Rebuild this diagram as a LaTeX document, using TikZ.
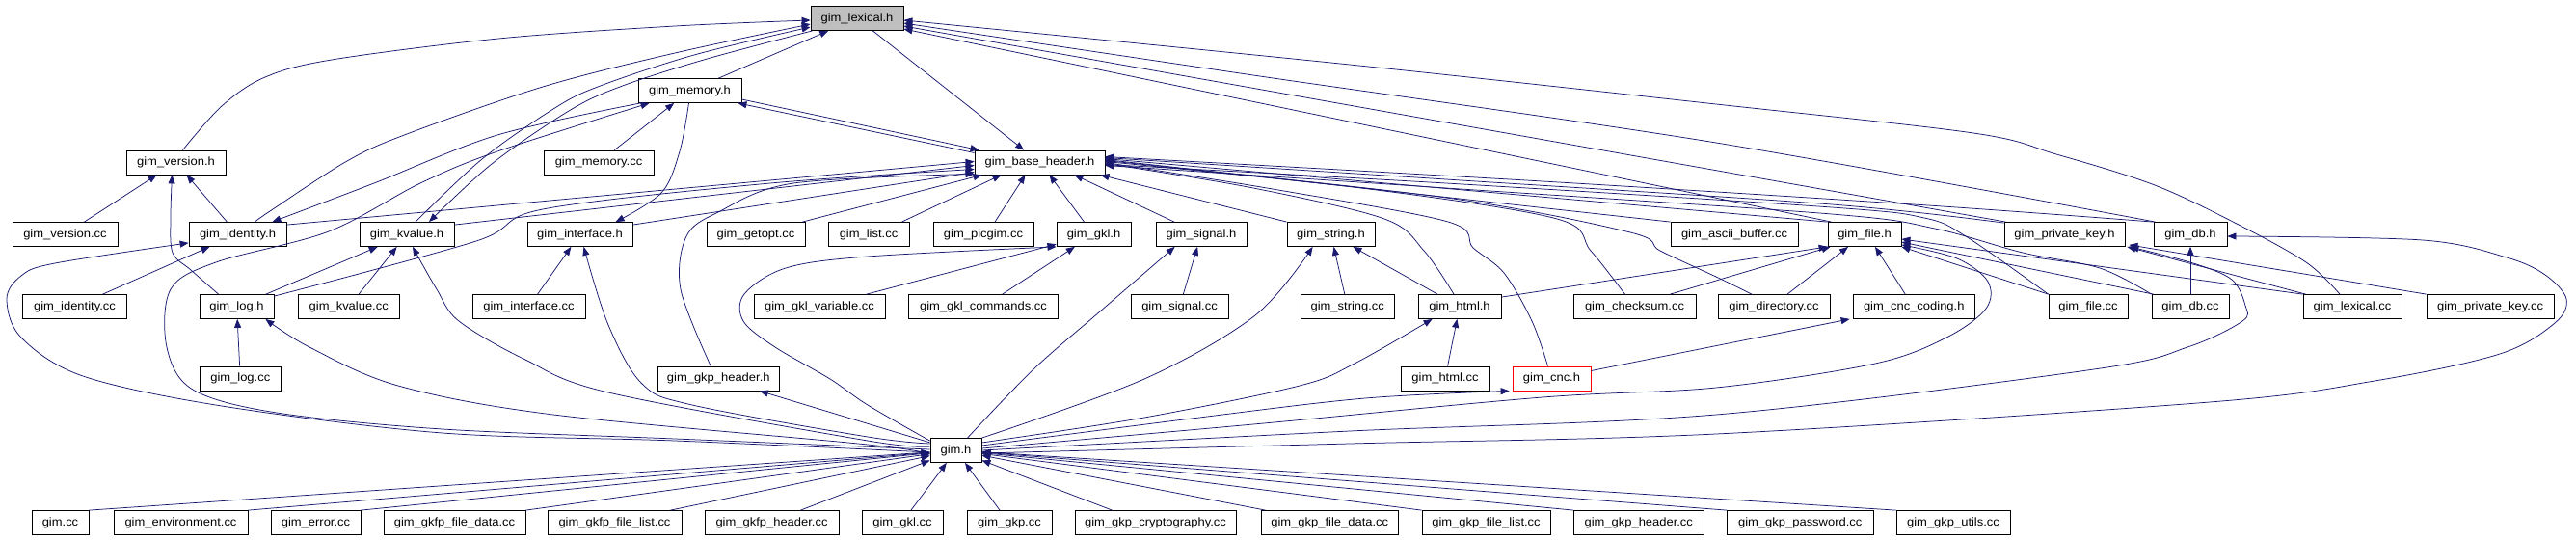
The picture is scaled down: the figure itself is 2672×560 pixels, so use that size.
\documentclass[tikz,border=0pt]{standalone}
\usepackage{fontspec}
\setmainfont{Liberation Sans}[FakeStretch=1.08]
\usetikzlibrary{arrows.meta,calc}
\definecolor{edgecol}{HTML}{191970}
\definecolor{lexgray}{HTML}{BFBFBF}
\tikzset{
 box/.style={draw=black,line width=0.8pt,fill=white,minimum height=25pt,inner sep=0pt,font=\fontsize{12}{14}\selectfont,text=black},
 e/.style={draw=edgecol,line width=0.75pt,-{Triangle[length=9pt,width=7pt]}},
 sm/.style={smooth,tension=0.55}
}
\newcommand\mkbox[5][]{\node[box,minimum width=#4pt,#1] (#2) at (#3) {#5};}
\begin{document}
\begin{tikzpicture}[x=1pt,y=-1pt]
\fill[white] (0,0) rectangle (2672,560);
\useasboundingbox (0,0) rectangle (2672,560);
% row 0-2
\mkbox[fill=lexgray]{lex}{889,19}{96}{gim\_lexical.h}
\mkbox{mem}{715.5,94}{107}{gim\_memory.h}
\mkbox{ver}{182.5,168.5}{103}{gim\_version.h}
\mkbox{memcc}{621,168.5}{114}{gim\_memory.cc}
\mkbox{base}{1078.5,168.5}{135}{gim\_base\_header.h}
% row 3
\mkbox{vercc}{67.5,243}{109}{gim\_version.cc}
\mkbox{idh}{246.5,243}{101}{gim\_identity.h}
\mkbox{kvh}{422,243}{98}{gim\_kvalue.h}
\mkbox{ifh}{601.5,243}{109}{gim\_interface.h}
\mkbox{getopt}{784,243}{102}{gim\_getopt.cc}
\mkbox{list}{901,243}{84}{gim\_list.cc}
\mkbox{picgim}{1020,243}{104}{gim\_picgim.cc}
\mkbox{gklh}{1134.5,243}{77}{gim\_gkl.h}
\mkbox{sigh}{1246,243}{94}{gim\_signal.h}
\mkbox{strh}{1380.5,243}{91}{gim\_string.h}
\mkbox{ascii}{1799,243}{132}{gim\_ascii\_buffer.cc}
\mkbox{fileh}{1934,243}{76}{gim\_file.h}
\mkbox{pkh}{2141.5,243}{125}{gim\_private\_key.h}
\mkbox{dbh}{2272,243}{76}{gim\_db.h}
% row 4
\mkbox{idcc}{77.5,318}{108}{gim\_identity.cc}
\mkbox{logh}{245.5,318}{77}{gim\_log.h}
\mkbox{kvcc}{361.75,318}{105.5}{gim\_kvalue.cc}
\mkbox{ifcc}{548.5,318}{117}{gim\_interface.cc}
\mkbox{gklvar}{850,318}{136}{gim\_gkl\_variable.cc}
\mkbox{gklcmd}{1020,318}{155}{gim\_gkl\_commands.cc}
\mkbox{sigcc}{1223.5,318}{101}{gim\_signal.cc}
\mkbox{strcc}{1397.75,318}{97.5}{gim\_string.cc}
\mkbox{htmlh}{1514,318}{86}{gim\_html.h}
\mkbox{chk}{1695.5,318}{127}{gim\_checksum.cc}
\mkbox{dircc}{1840,318}{116}{gim\_directory.cc}
\mkbox{cnccod}{1985.25,318}{126.5}{gim\_cnc\_coding.h}
\mkbox{filecc}{2166,318}{82}{gim\_file.cc}
\mkbox{dbcc}{2272,318}{80}{gim\_db.cc}
\mkbox{lexcc}{2440,318}{102}{gim\_lexical.cc}
\mkbox{pkcc}{2583,318}{132}{gim\_private\_key.cc}
% row 5-6
\mkbox{logcc}{249.3,392.5}{84.6}{gim\_log.cc}
\mkbox{gkph}{745.25,392.5}{125.5}{gim\_gkp\_header.h}
\mkbox{htmlcc}{1499,392.5}{92}{gim\_html.cc}
\mkbox[draw=red]{cnch}{1609.5,392.5}{81}{gim\_cnc.h}
\mkbox{gimh}{991.5,467}{53}{gim.h}
% row 7
\mkbox{gimcc}{62.5,542}{59}{gim.cc}
\mkbox{envcc}{187.5,542}{139}{gim\_environment.cc}
\mkbox{errcc}{327.5,542}{93}{gim\_error.cc}
\mkbox{gkfpfd}{471.5,542}{147}{gim\_gkfp\_file\_data.cc}
\mkbox{gkfpfl}{637.5,542}{139}{gim\_gkfp\_file\_list.cc}
\mkbox{gkfphd}{800.5,542}{139}{gim\_gkfp\_header.cc}
\mkbox{gklcc}{936,542}{84}{gim\_gkl.cc}
\mkbox{gkpcc}{1047,542}{88}{gim\_gkp.cc}
\mkbox{gkpcr}{1198.5,542}{167}{gim\_gkp\_cryptography.cc}
\mkbox{gkpfd}{1379.25,542}{142.5}{gim\_gkp\_file\_data.cc}
\mkbox{gkpfl}{1541.5,542}{133}{gim\_gkp\_file\_list.cc}
\mkbox{gkphd}{1699.75,542}{134.5}{gim\_gkp\_header.cc}
\mkbox{gkppw}{1867.25,542}{151.5}{gim\_gkp\_password.cc}
\mkbox{gkput}{2026,542}{118}{gim\_gkp\_utils.cc}
% ---- edges to gim_lexical.h
\draw[e] (mem) -- (lex);
\draw[e] plot[sm] coordinates {($(ver.north)+(7,0)$) (230,110) (275,80) (344,62) (517,40) (700,27) ($(lex.west)+(0,2)$)};
\draw[e] plot[sm] coordinates {($(idh.north)+(18,0)$) (280,219) (360,167) (422,139) (563,90) (700,55) ($(lex.west)+(0,6)$)};
\draw[e] plot[sm] coordinates {($(kvh.north)+(9,0)$) (500,165) (574,113) (620,90) (720,57) ($(lex.west)+(0,9)$)};
\draw[e] plot[sm] coordinates {($(lex.south west)+(2,0)$) (730,62) (643,90) (590,115) (510,170) ($(kvh.north)+(23,0)$)};
\draw[e] (lex) -- (base);
\draw[e] plot[sm] coordinates {($(lexcc.north)+(-13,0)$) (2392,272) (2320,232) (2235,192) (2133,160) (2047,138) (1780,108) (1400,67) ($(lex.east)+(0,2)$)};
\draw[e] plot[sm] coordinates {($(dbh.north west)+(2,0)$) (1780,148) (1300,78) ($(lex.east)+(0,5)$)};
\draw[e] ($(pkh.north west)+(2,0)$) -- ($(lex.east)+(0,8)$);
\draw[e] ($(fileh.north west)+(4,0)$) -- ($(lex.east)+(0,11)$);
% ---- version
\draw[e] (vercc) -- (ver);
\draw[e] (idh) -- (ver);
\draw[e] plot[sm] coordinates {($(logh.north west)+(20,0)$) (198,280) (179,262) (177,225) ($(ver.south)+(-4,0)$)};
% ---- memory
\draw[e] (memcc) -- (mem);
\draw[e] ($(mem.east)+(0,9)$) -- ($(base.north west)+(5,0)$);
\draw[e] ($(base.west)+(0,-10)$) -- ($(mem.south east)+(-4,0)$);
\draw[e] plot[sm] coordinates {($(gimh.west)+(0,-1)$) (700,455) (459,445) (287,428) (200,404) (173,360) (177,300) (224,272) (341,240) (436,190) (516,157) ($(mem.south west)+(12,0)$)};
\draw[e] plot[sm] coordinates {($(mem.south west)+(3,0)$) (516,140) (388,190) ($(idh.north east)+(-15,0)$)};
\draw[e] plot[sm] coordinates {($(mem.south)+(-1,0)$) (705,157) (686,200) ($(ifh.north)+(37,0)$)};
% ---- identity
\draw[e] (idcc) -- (idh);
\draw[e] plot[sm] coordinates {($(gimh.west)+(0,2)$) (700,457) (459,449) (230,421) (86,390) (22,350) (7,310) (22,286) (57,273) ($(idh.south west)+(0,-4)$)};
\draw[e] ($(idh.north east)+(0,3)$) -- ($(base.west)+(0,-1)$);
% ---- kvalue
\draw[e] (logh) -- (kvh);
\draw[e] (kvcc) -- (kvh);
\draw[e] plot[sm] coordinates {($(gimh.west)+(0,-4)$) (900,457) (631,407) (545,373) (476,333) (453,300) ($(kvh.south)+(6,0)$)};
\draw[e] ($(kvh.north east)+(0,3)$) -- ($(base.west)+(0,3)$);
% ---- interface
\draw[e] (ifcc) -- (ifh);
\draw[e] plot[sm] coordinates {($(gimh.west)+(0,-7)$) (900,453) (718,420) (666,398) (631,337) ($(ifh.south)+(4,0)$)};
\draw[e] ($(ifh.north east)+(0,3)$) -- ($(base.west)+(0,10)$);
% ---- log
\draw[e] (logcc) -- (logh);
\draw[e] plot[sm] coordinates {($(gimh.west)+(0,4)$) (900,461) (574,430) (413,400) (321,360) ($(logh.south east)+(-9,0)$)};
\draw[e] plot[sm] coordinates {($(logh.north east)+(0,2)$) (494,250) (563,217) (799,190) ($(base.west)+(0,7)$)};
% ---- base header, from below and right
\draw[e] plot[sm] coordinates {($(gkph.north)+(-8,0)$) (706,300) (712,245) (745,220) (823,190) ($(base.south west)+(0,-1)$)};
\draw[e] ($(getopt.north east)+(-3,0)$) -- ($(base.south west)+(8,0)$);
\draw[e] ($(list.north east)+(-8,0)$) -- ($(base.south)+(-40,0)$);
\draw[e] ($(picgim.north)+(12,0)$) -- ($(base.south)+(-15,0)$);
\draw[e] ($(gklh.north)+(-10,0)$) -- ($(base.south)+(10,0)$);
\draw[e] ($(sigh.north)+(-28,0)$) -- ($(base.south)+(36,0)$);
\draw[e] (strh.north west) -- ($(base.south east)+(-5,0)$);
\draw[e] plot[sm] coordinates {($(htmlh.north)+(-6,0)$) (1477,260) (1436,227) (1300,195) ($(base.east)+(0,1)$)};
\draw[e] plot[sm] coordinates {($(cnch.north)+(-4,0)$) (1589,333) (1560,283) (1528,257) (1502,230) (1320,196) ($(base.east)+(0,0)$)};
\draw[e] plot[sm] coordinates {($(chk.north)+(-10,0)$) (1650,260) (1615,227) (1420,196) ($(base.east)+(0,-1)$)};
\draw[e] plot[sm] coordinates {($(dircc.north)+(-23,0)$) (1780,287) (1722,260) (1691,241) (1500,205) ($(base.east)+(0,-2)$)};
\draw[e] (ascii.north west) -- ($(base.east)+(0,-3)$);
\draw[e] (fileh.north west) -- ($(base.east)+(0,-4)$);
\draw[e] plot[sm] coordinates {($(pkh.north west)+(0,1)$) (1900,212) (1500,186) ($(base.east)+(0,-5)$)};
\draw[e] plot[sm] coordinates {(dbh.north west) (2000,213) (1600,188) ($(base.east)+(0,-6)$)};
\draw[e] plot[sm] coordinates {(filecc.north west) (2039,245) (1996,226) (1900,215) (1500,190) ($(base.east)+(0,2)$)};
\draw[e] plot[sm] coordinates {(dbcc.north west) (2178,278) (2098,262) (2007,237) (1900,222) (1500,195) ($(base.east)+(0,3)$)};
% ---- gkl
\draw[e] (gklvar) -- (gklh);
\draw[e] (gklcmd) -- (gklh);
\draw[e] plot[sm] coordinates {($(gimh.north west)+(0,3)$) (900,420) (861,393) (804,360) (771,333) (772,305) (815,278) (900,266) (gklh.south west)};
\draw[e] (gimh) -- (gkph);
% ---- signal / string / html
\draw[e] (sigcc) -- (sigh);
\draw[e] plot[sm] coordinates {($(gimh.north)+(12,0)$) (1072,383) (1141,323) ($(sigh.south west)+(20,0)$)};
\draw[e] (strcc) -- (strh);
\draw[e] (htmlh) -- (strh);
\draw[e] plot[sm] coordinates {(gimh.north east) (1187,393) (1302,327) ($(strh.south west)+(27,0)$)};
\draw[e] (htmlcc) -- (htmlh);
\draw[e] plot[sm] coordinates {($(gimh.east)+(0,-8)$) (1187,433) (1348,400) (1405,377) ($(htmlh.south west)+(15,0)$)};
\draw[e] ($(htmlh.north east)+(0,3)$) -- (fileh.south west);
% ---- cnc
\draw[e] plot[sm] coordinates {($(gimh.east)+(0,-5)$) (1244,433) (1416,413) ($(cnch.south west)+(-3,0)$)};
\draw[e] ($(cnch.east)+(0,-8)$) -- ($(cnccod.south west)+(-3,0)$);
% ---- file
\draw[e] ($(chk.north east)+(-27,0)$) -- ($(fileh.south west)+(3,0)$);
\draw[e] ($(dircc.north)+(14,0)$) -- ($(fileh.south)+(-17,0)$);
\draw[e] ($(cnccod.north)+(-9,0)$) -- ($(fileh.south)+(11,0)$);
\draw[e] (filecc.north west) -- (fileh.south east);
\draw[e] ($(dbcc.north west)+(2,0)$) -- ($(fileh.east)+(0,8)$);
\draw[e] (lexcc.north west) -- ($(fileh.east)+(0,5)$);
\draw[e] plot[sm] coordinates {($(gimh.east)+(0,-2)$) (1300,440) (1600,412) (1780,402) (1945,377) (2019,350) (2060,320) (2062,292) (2030,268) ($(fileh.south east)+(0,-2)$)};
% ---- private key
\draw[e] ($(lexcc.north west)+(3,0)$) -- ($(pkh.south east)+(2,0)$);
\draw[e] (pkcc.north west) -- ($(pkh.south east)+(4,-2)$);
\draw[e] plot[sm] coordinates {(gimh.east) (1400,447) (1780,430) (2172,383) (2269,360) (2326,333) (2329,317) (2315,290) (2275,273) ($(pkh.south east)+(5,0)$)};
% ---- db
\draw[e] (dbcc) -- (dbh);
\draw[e] plot[sm] coordinates {($(gimh.east)+(0,3)$) (1400,460) (1780,450) (2292,417) (2463,395) (2593,367) (2650,335) (2662,310) (2640,285) (2600,267) (2513,249) ($(dbh.east)+(0,2)$)};
% ---- sources including gim.h
\draw[e] (gimcc.north east) -- (gimh);
\draw[e] (envcc.north east) -- (gimh);
\draw[e] (errcc.north east) -- (gimh);
\draw[e] (gkfpfd.north east) -- (gimh);
\draw[e] ($(gkfpfl.north east)+(-12,0)$) -- (gimh);
\draw[e] ($(gkfphd.north east)+(-40,0)$) -- (gimh);
\draw[e] ($(gklcc.north)+(9,0)$) -- (gimh);
\draw[e] ($(gkpcc.north)+(-10,0)$) -- (gimh);
\draw[e] ($(gkpcr.north)+(-45,0)$) -- (gimh);
\draw[e] ($(gkpfd.north west)+(5,0)$) -- (gimh);
\draw[e] (gkpfl.north west) -- (gimh);
\draw[e] (gkphd.north west) -- (gimh);
\draw[e] (gkppw.north west) -- (gimh);
\draw[e] (gkput.north west) -- (gimh);
\end{tikzpicture}
\end{document}
